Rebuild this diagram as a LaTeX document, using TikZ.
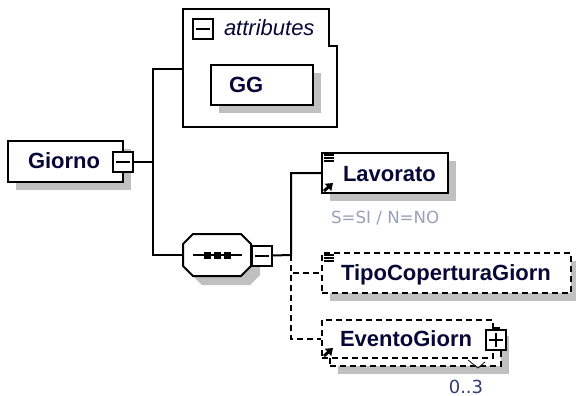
\documentclass[tikz,border=0pt]{standalone}
\usepackage{fontspec}
\setmainfont{Liberation Sans}
\newfontfamily\notefont{DejaVu Sans}
\usetikzlibrary{arrows.meta,shadows}
\definecolor{nametext}{RGB}{8,8,56}
\definecolor{notetext}{RGB}{150,160,185}
\definecolor{occtext}{RGB}{50,60,110}
\definecolor{shadowgray}{RGB}{192,192,192}

\begin{document}
\begin{tikzpicture}[x=0.75pt, y=-0.75pt, line width=1.5pt,
  box/.style={draw, fill=white, inner sep=0pt},
  shadowed/.style={drop shadow={shadow xshift=6pt, shadow yshift=-6pt, fill=shadowgray, opacity=1}},
  optbox/.style={box, dash pattern=on 4.5pt off 3pt},
  optline/.style={dash pattern=on 4.5pt off 3pt},
  toggle/.style={draw, fill=white, inner sep=0pt, minimum size=15pt, line width=1.5pt},
  eltext/.style={inner sep=0pt, anchor=base west, text=nametext, font=\fontsize{16.5}{20}\selectfont\bfseries},
  annot/.style={inner sep=0pt, anchor=base west, font=\notefont\fontsize{12.5}{15}\selectfont}]
  \useasboundingbox (0,0) rectangle (576,396);
  \clip (0,0) rectangle (576,396);

  % Root element
  \node[box, shadowed, minimum width=86.25pt, minimum height=30.75pt] (giorno) at (65.5,161.5) {};
  \node[eltext] (giornoTxt) at (27,168) {Giorno};
  \node[toggle] (giornoMinus) at (123,162) {};
  \draw ([xshift=3pt]giornoMinus.west) -- ([xshift=-3pt]giornoMinus.east);

  % Attributes group
  \draw (183,9) -- (329,9) -- (329,46) -- (337,46) -- (337,127) -- (183,127) -- cycle;
  \node[toggle] (attrMinus) at (203,28.5) {};
  \draw ([xshift=3pt]attrMinus.west) -- ([xshift=-3pt]attrMinus.east);
  \node[eltext, font=\fontsize{16.5}{20}\selectfont\itshape] (attrTxt) at (223,36) {attributes};
  \node[box, shadowed, minimum width=76.5pt, minimum height=30pt] (gg) at (262,85) {};
  \node[eltext] (ggTxt) at (228,92) {GG};

  % Sequence
  \begin{scope}[shift={(9,9)}]
    \fill[shadowgray] (193,234) -- (241,234) -- (251,244) -- (251,266) -- (241,276) -- (193,276) -- (183,266) -- (183,244) -- cycle;
  \end{scope}
  \filldraw[fill=white] (193,234) -- (241,234) -- (251,244) -- (251,266) -- (241,276) -- (193,276) -- (183,266) -- (183,244) -- cycle;
  \draw (193,255) -- (242,255);
  \foreach \x in {207,217,227} {
    \fill (\x-3.5,251.5) rectangle (\x+3.5,258.5);
  }
  \node[toggle] (seqMinus) at (261.5,255.5) {};
  \draw ([xshift=3pt]seqMinus.west) -- ([xshift=-3pt]seqMinus.east);

  % Child elements
  \node[box, shadowed, minimum width=94.5pt, minimum height=30pt] (lavorato) at (385,173) {};
  \node[eltext] (lavoratoTxt) at (342,181) {Lavorato};
  \node[annot, text=notetext] (lavoratoNote) at (330,223) {S=SI / N=NO};

  \node[optbox, shadowed, minimum width=186.75pt, minimum height=30pt] (tipo) at (446.5,273) {};
  \node[eltext] (tipoTxt) at (340,280) {TipoCoperturaGiorn};

  \node[optbox, shadowed, minimum width=128.25pt, minimum height=28.5pt] (eventoBack) at (415.5,347) {};
  \node[optbox, minimum width=128.25pt, minimum height=28.5pt] (evento) at (407.5,339) {};
  \node[eltext] (eventoTxt) at (339,346) {EventoGiorn};
  \node[toggle] (eventoPlus) at (495.5,340) {};
  \draw ([xshift=3pt]eventoPlus.west) -- ([xshift=-3pt]eventoPlus.east);
  \draw ([yshift=-3pt]eventoPlus.north) -- ([yshift=3pt]eventoPlus.south);
  \draw[line width=0.7pt, black!85] (468,360) -- (478,368) -- (485,362);
  \node[annot, anchor=base, text=occtext, font=\notefont\fontsize{13.5}{16}\selectfont] (occ) at (466,393) {0..3};

  % Icons
  \foreach \n in {lavorato,tipo} {
    \foreach \d in {3,6,9} {
      \draw[line width=1pt] ([shift={(3,\d)}]\n.north west) -- ++(10,0);
    }
  }
  \foreach \n in {lavorato,evento} {
    \draw[line width=2.2pt, -{Triangle[length=5pt,width=7pt]}] ([shift={(3,-3)}]\n.south west) -- ++(9,-8);
  }

  % Connectors
  \coordinate (fork1) at (153,162);
  \coordinate (attrW) at (183,69);
  \coordinate (seqW) at (183,255);
  \coordinate (fork2) at (291,255);
  \draw (giornoMinus.east) -- (fork1);
  \draw (attrW) -| (fork1) |- (seqW);
  \draw (seqMinus.east) -- (fork2) |- (lavorato.west);
  \draw[optline] (fork2) |- (tipo.west);
  \draw[optline] (fork2) |- (evento.west);
\end{tikzpicture}
\end{document}
